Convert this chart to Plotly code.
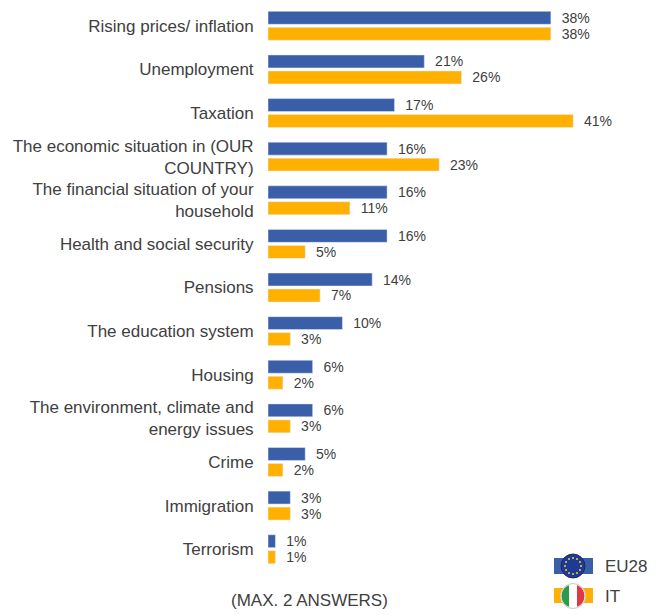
import math
import plotly.graph_objects as go

categories = ["Rising prices/ inflation", "Unemployment", "Taxation",
              "The economic situation in (OUR<br>COUNTRY)",
              "The financial situation of your<br>household",
              "Health and social security", "Pensions", "The education system",
              "Housing", "The environment, climate and<br>energy issues",
              "Crime", "Immigration", "Terrorism"]
eu28 = [38, 21, 17, 16, 16, 16, 14, 10, 6, 6, 5, 3, 1]
it = [38, 26, 41, 23, 11, 5, 7, 3, 2, 3, 2, 3, 1]
legend_labels = ["EU28", "IT"]
note = "(MAX. 2 ANSWERS)"

FONT = "Liberation Sans"
TEXT = "#404040"
BLUE = "#3A5FA8"
AMBER = "#FFB000"
L, R, T, B = 268, 664, 4, 571


def px(x):
    return (x - L) / (R - L)


def py(y):
    return (B - y) / (B - T)


def rect(x0, y0, x1, y1, color):
    return dict(type="rect", xref="paper", yref="paper", x0=px(x0), x1=px(x1), y0=py(y0), y1=py(y1),
                fillcolor=color, line_width=0, layer="above")


def circle(cx, cy, r, color, line=None):
    return dict(type="circle", xref="paper", yref="paper", x0=px(cx - r), x1=px(cx + r),
                y0=py(cy + r), y1=py(cy - r), fillcolor=color,
                line=dict(width=1 if line else 0, color=line or color), layer="above")


def disc_slice(cx, cy, r, xa, xb, color):
    """Vertical slice of a disc between pixel offsets xa and xb from the centre."""
    n = 12
    xs = [xa + (xb - xa) * i / n for i in range(n + 1)]
    top = [(x, -math.sqrt(max(r * r - x * x, 0))) for x in xs]
    bot = [(x, math.sqrt(max(r * r - x * x, 0))) for x in reversed(xs)]
    pts = top + bot
    path = "M " + " L ".join(f"{px(cx + a):.5f},{py(cy + b):.5f}" for a, b in pts) + " Z"
    return dict(type="path", xref="paper", yref="paper", path=path, fillcolor=color, line_width=0, layer="above")


shapes = [rect(554, 558, 593, 574, BLUE), rect(554, 588, 593, 603, AMBER)]
shapes.append(circle(573, 566, 12, "#1F3A93", "#1B2A63"))
for k in range(12):
    a = 2 * math.pi * k / 12
    shapes.append(circle(573 + 8 * math.cos(a), 566 + 8 * math.sin(a), 1, "#E8D24A"))
shapes.append(circle(573, 596, 12.5, "#FFFFFF", "#C9C9C9"))
shapes.append(disc_slice(573, 596, 11.5, -11.5, -4, "#2E9A47"))
shapes.append(disc_slice(573, 596, 11.5, 4, 11.5, "#DE3A45"))

fig = go.Figure()
fig.add_bar(y=categories, x=eu28, name=legend_labels[0], orientation="h", marker_color=BLUE,
            text=[f"\u00a0\u00a0{v}%" for v in eu28], textposition="outside", cliponaxis=False,
            constraintext="none")
fig.add_bar(y=categories, x=it, name=legend_labels[1], orientation="h", marker_color=AMBER,
            text=[f"\u00a0\u00a0{v}%" for v in it], textposition="outside", cliponaxis=False,
            constraintext="none")

annotations = [
    dict(text=note, x=px(309), y=py(600), xref="paper", yref="paper", xanchor="center", yanchor="middle",
         showarrow=False, font=dict(size=17, color=TEXT)),
    dict(text=legend_labels[0], x=px(603), y=py(566), xref="paper", yref="paper", xanchor="left",
         yanchor="middle", showarrow=False, font=dict(size=17, color=TEXT)),
    dict(text=legend_labels[1], x=px(603), y=py(596), xref="paper", yref="paper", xanchor="left",
         yanchor="middle", showarrow=False, font=dict(size=17, color=TEXT)),
]

fig.update_layout(width=664, height=615, margin=dict(l=L, r=664 - R, t=T, b=615 - B), barmode="group",
                  bargap=0.267, bargroupgap=0.19, showlegend=False, plot_bgcolor="white",
                  paper_bgcolor="white", font=dict(family=FONT, size=16, color=TEXT),
                  shapes=shapes, annotations=annotations)
fig.update_traces(textfont=dict(size=14, color=TEXT))
fig.update_xaxes(visible=False, range=[0, 53.2])
fig.update_yaxes(autorange="reversed", showline=False, showgrid=False, ticks="outside", ticklen=10,
                 tickcolor="rgba(0,0,0,0)", tickfont=dict(size=17, color=TEXT))
fig.write_html("out.html", config=dict(displayModeBar=False),
               post_script="document.body.style.margin='0';document.documentElement.style.overflow='hidden';")
